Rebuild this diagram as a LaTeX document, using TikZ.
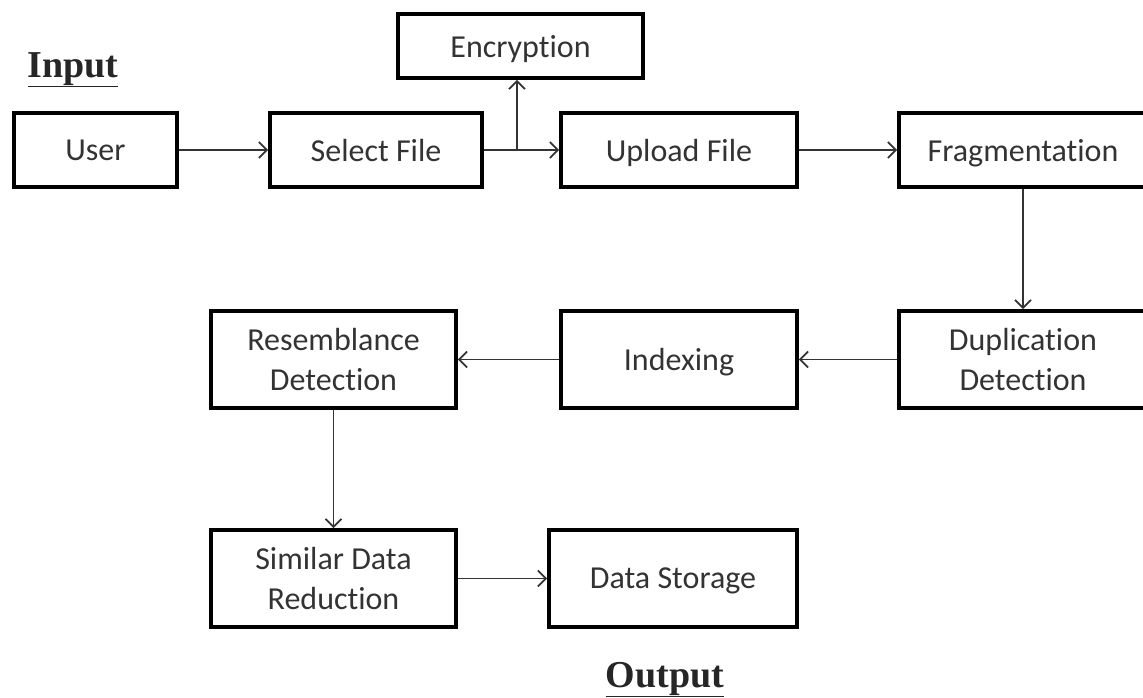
\documentclass[tikz,border=0pt]{standalone}
\usepackage{fontspec}
\setmainfont{Carlito}[Ligatures={NoCommon}]
\newfontfamily\serifbold{Liberation Serif}
\usetikzlibrary{arrows.meta}
\begin{document}
\begin{tikzpicture}[x=1pt,y=-1pt,
  box/.style={draw=black, line width=3.6pt, inner sep=0pt, align=center, text depth=0pt,
    text=black!80, font=\fontsize{32}{40}\selectfont},
  arr/.style={draw=black!80, line width=1.8pt, -{Straight Barb[length=8pt,width=16pt,line width=1.8pt]}},
  title/.style={font=\serifbold\bfseries\fontsize{38}{42}\selectfont, text=black!85, inner sep=0pt, anchor=base}]
\useasboundingbox (0,0) rectangle (1143,697);
\node[box, minimum width=163pt, minimum height=74pt] (user) at (95.5,150) {User};
\node[box, minimum width=212pt, minimum height=74pt] (select) at (376,150) {Select File};
\node[box, minimum width=245pt, minimum height=64pt] (enc) at (520.5,46) {Encryption};
\node[box, minimum width=236pt, minimum height=74pt] (upload) at (679,150) {Upload File};
\node[box, minimum width=248pt, minimum height=74pt] (frag) at (1023,150) {Fragmentation};
\node[box, minimum width=248pt, minimum height=97pt] (dup) at (1023,359.5) {Duplication\\Detection};
\node[box, minimum width=236pt, minimum height=97pt] (idx) at (679,359.5) {Indexing};
\node[box, minimum width=245pt, minimum height=97pt] (res) at (333.5,359.5) {Resemblance\\Detection};
\node[box, minimum width=245pt, minimum height=97pt] (sim) at (333.5,578.5) {Similar Data\\Reduction};
\node[box, minimum width=248pt, minimum height=97pt] (store) at (673,578.5) {Data Storage};
\node[title] (in) at (73,77) {\underline{Input}};
\node[title] (out) at (665,687) {\underline{Output}};
\coordinate (br) at (517,150);
\draw[arr] (user) -- (select);
\draw[arr] (select) -- (upload);
\draw[arr] (br) -- (br |- enc.south);
\draw[arr] (upload) -- (frag);
\draw[arr] (frag) -- (dup);
\draw[arr] (dup) -- (idx);
\draw[arr] (idx) -- (res);
\draw[arr] (res) -- (sim);
\draw[arr] (sim) -- (store);
\end{tikzpicture}
\end{document}
